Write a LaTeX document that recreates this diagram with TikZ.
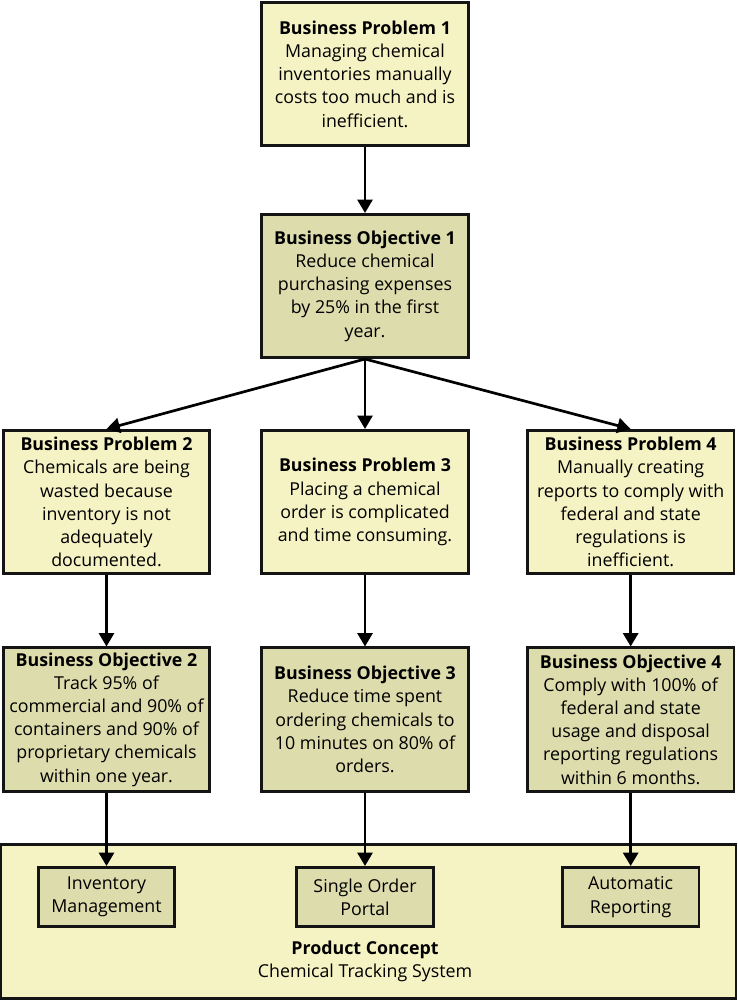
\documentclass[tikz,border=0pt]{standalone}
\usepackage{fontspec}
\setmainfont{Open Sans}
\usepackage{xcolor}
\usepackage{tikz}
\usetikzlibrary{arrows.meta,positioning}
\definecolor{probyellow}{RGB}{245,243,196}
\definecolor{objolive}{RGB}{221,220,172}
\definecolor{boxline}{RGB}{20,20,20}

\begin{document}
\begin{tikzpicture}[
          prob/.style={draw=boxline,line width=2.3pt,fill=probyellow,
                       minimum width=6.2cm,minimum height=4.3cm,
                       font=\fontsize{15.2}{19.8}\selectfont,align=center},
          obj/.style={prob,fill=objolive},
          feat/.style={draw=boxline,line width=2.3pt,fill=objolive,
                       minimum width=4.1cm,minimum height=1.78cm,
                       font=\fontsize{15.2}{19.8}\selectfont,align=center},
          concept/.style={draw=boxline,line width=2.3pt,fill=probyellow,
                          minimum width=22.05cm,minimum height=4.6cm},
          lbl/.style={font=\fontsize{15.2}{19.8}\selectfont,align=center},
          arr/.style={line width=2.3pt,-{Triangle[width=0.45cm,length=0.4cm]}}]
        \useasboundingbox (0,0) rectangle (22.11,-30);
        % problems and objectives
        \node[prob] (bp1) at (10.95,-2.22) {\textbf{Business Problem 1}\\Managing chemical\\inventories manually\\costs too much and is\\inefficient.};
        \node[obj] (bo1) at (10.95,-8.58) {\textbf{Business Objective 1}\\Reduce chemical\\purchasing expenses\\by 25\% in the first\\year.};
        \node[prob] (bp2) at (3.195,-15.06) {\textbf{Business Problem 2}\\Chemicals are being\\wasted because\\inventory is not\\adequately\\documented.};
        \node[prob] (bp3) at (10.95,-15.06) {\textbf{Business Problem 3}\\Placing a chemical\\order is complicated\\and time consuming.};
        \node[prob] (bp4) at (18.92,-15.06) {\textbf{Business Problem 4}\\Manually creating\\reports to comply with\\federal and state\\regulations is\\inefficient.};
        \node[obj] (bo2) at (3.195,-21.585) {\textbf{Business Objective 2}\\Track 95\% of\\commercial and 90\% of\\containers and 90\% of\\proprietary chemicals\\within one year.};
        \node[obj] (bo3) at (10.95,-21.585) {\textbf{Business Objective 3}\\Reduce time spent\\ordering chemicals to\\10 minutes on 80\% of\\orders.};
        \node[obj] (bo4) at (18.92,-21.585) {\textbf{Business Objective 4}\\Comply with 100\% of\\federal and state\\usage and disposal\\reporting regulations\\within 6 months.};
        % product concept
        \node[concept] (pc) at (11.055,-27.645) {};
        \node[feat] (inv) at (3.195,-26.91) {Inventory\\Management};
        \node[feat] (sop) at (10.95,-26.91) {Single Order\\Portal};
        \node[feat] (rep) at (18.92,-26.91) {Automatic\\Reporting};
        \node[lbl] (pcl) at (10.95,-28.83) {\textbf{Product Concept}\\Chemical Tracking System};
        % arrows
        \draw[arr] (bp1) -- (bo1);
        \draw[arr] (bo1.south) -- (bp2.north);
        \draw[arr] (bo1.south) -- (bp3.north);
        \draw[arr] (bo1.south) -- (bp4.north);
        \draw[arr] (bp2) -- (bo2);
        \draw[arr] (bp3) -- (bo3);
        \draw[arr] (bp4) -- (bo4);
        \draw[arr] (bo2.south) -- (inv.north);
        \draw[arr] (bo3.south) -- (sop.north);
        \draw[arr] (bo4.south) -- (rep.north);
      \end{tikzpicture}
\end{document}
